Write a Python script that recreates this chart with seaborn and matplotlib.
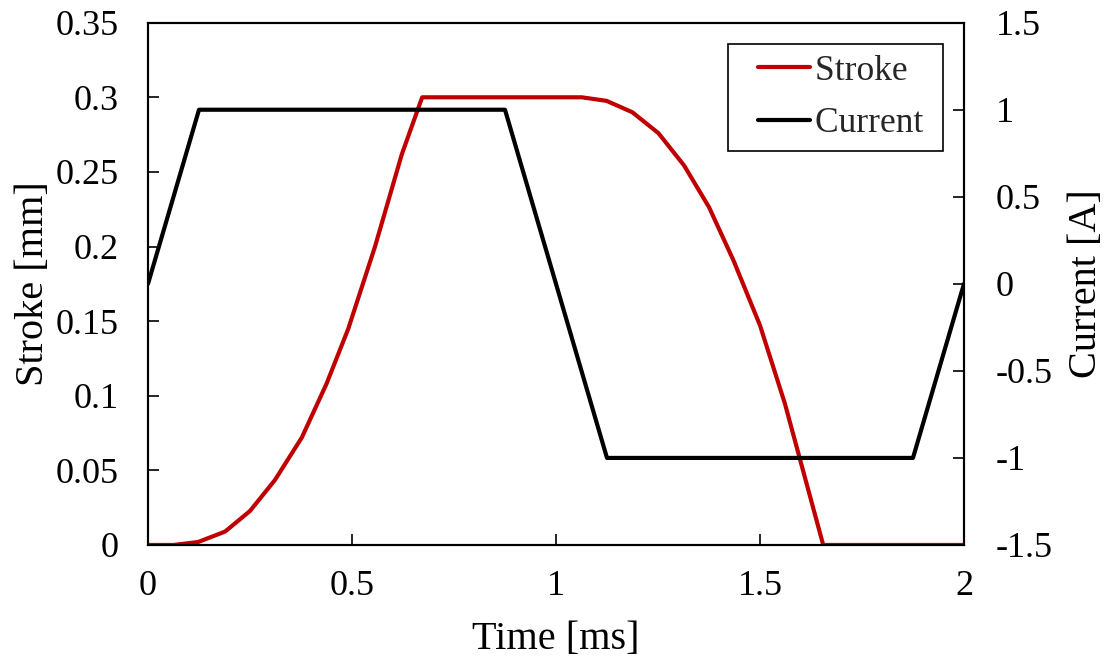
import matplotlib
matplotlib.use("Agg")
import matplotlib.pyplot as plt
from matplotlib.legend_handler import HandlerLine2D
from matplotlib.lines import Line2D
import seaborn as sns
import pandas as pd

# Data
stroke_time = [0.0, 0.0625, 0.123, 0.189, 0.25, 0.311, 0.377, 0.4375, 0.491, 0.556,
               0.622, 0.672, 1.063, 1.124, 1.187, 1.251, 1.314, 1.375, 1.435, 1.5,
               1.561, 1.655, 2.0]
stroke_mm = [0.0, 0.0, 0.002, 0.009, 0.0228, 0.0435, 0.072, 0.108, 0.145, 0.1996,
             0.2617, 0.300, 0.300, 0.2976, 0.290, 0.276, 0.2543, 0.2264, 0.1907, 0.1472,
             0.0948, 0.0, 0.0]
current_time = [0.0, 0.125, 0.875, 1.125, 1.875, 2.0]
current_a = [0.0, 1.0, 1.0, -1.0, -1.0, 0.0]

x_ticks = [0, 0.5, 1, 1.5, 2]
x_tick_labels = ["0", "0.5", "1", "1.5", "2"]
left_ticks = [0, 0.05, 0.1, 0.15, 0.2, 0.25, 0.3, 0.35]
left_tick_labels = ["0", "0.05", "0.1", "0.15", "0.2", "0.25", "0.3", "0.35"]
right_ticks = [-1.5, -1, -0.5, 0, 0.5, 1, 1.5]
right_tick_labels = ["-1.5", "-1", "-0.5", "0", "0.5", "1", "1.5"]

sns.set_theme(style="white")
plt.rcParams["font.family"] = ["Liberation Serif", "DejaVu Serif"]

stroke_df = pd.DataFrame({"Time": stroke_time, "Stroke": stroke_mm})
current_df = pd.DataFrame({"Time": current_time, "Current": current_a})

fig = plt.figure(figsize=(11.07, 6.63), dpi=100)
ax = fig.add_axes([0.1337, 0.178, 0.8708 - 0.1337, 0.9658 - 0.178])
ax2 = ax.twinx()

sns.lineplot(data=stroke_df, x="Time", y="Stroke", ax=ax, color="#C00000",
             linewidth=3.0, label="Stroke", legend=False)
sns.lineplot(data=current_df, x="Time", y="Current", ax=ax2, color="black",
             linewidth=3.0, label="Current", legend=False)

ax.set_xlim(0, 2)
ax.set_ylim(0, 0.35)
ax2.set_ylim(-1.5, 1.5)

ax.set_xticks(x_ticks)
ax.set_xticklabels(x_tick_labels)
ax.set_yticks(left_ticks)
ax.set_yticklabels(left_tick_labels)
ax2.set_yticks(right_ticks)
ax2.set_yticklabels(right_tick_labels)

fs_tick = 26
fs_label = 29
ax.tick_params(axis="both", direction="in", length=8, width=1.2, labelsize=fs_tick,
               colors="black", bottom=True, left=True)
ax.tick_params(axis="y", pad=21)
ax.tick_params(axis="x", pad=18)
ax2.tick_params(axis="y", direction="in", length=8, width=1.2, labelsize=fs_tick,
                colors="black", pad=23, right=True)

ax.set_xlabel("Time [ms]", fontsize=fs_label, color="black", labelpad=13)
ax.set_ylabel("Stroke [mm]", fontsize=fs_label, color="black", labelpad=3)
ax2.set_ylabel("Current [A]", fontsize=fs_label, color="black", labelpad=11)

for a in (ax, ax2):
    for s in a.spines.values():
        s.set_color("black")
        s.set_linewidth(1.5)

h1, l1 = ax.get_legend_handles_labels()
h2, l2 = ax2.get_legend_handles_labels()
leg = ax2.legend(h1 + h2, [lab + " " for lab in l1 + l2], loc="upper right",
                 fontsize=25.5, frameon=True, fancybox=False, edgecolor="black",
                 framealpha=1, borderaxespad=0.6, handlelength=2.0,
                 handletextpad=0.15, labelspacing=0.55, borderpad=0.3,
                 handler_map={Line2D: HandlerLine2D(xpad=0.55)})
leg.get_frame().set_linewidth(1.2)

fig.savefig("out.png", dpi=100)
